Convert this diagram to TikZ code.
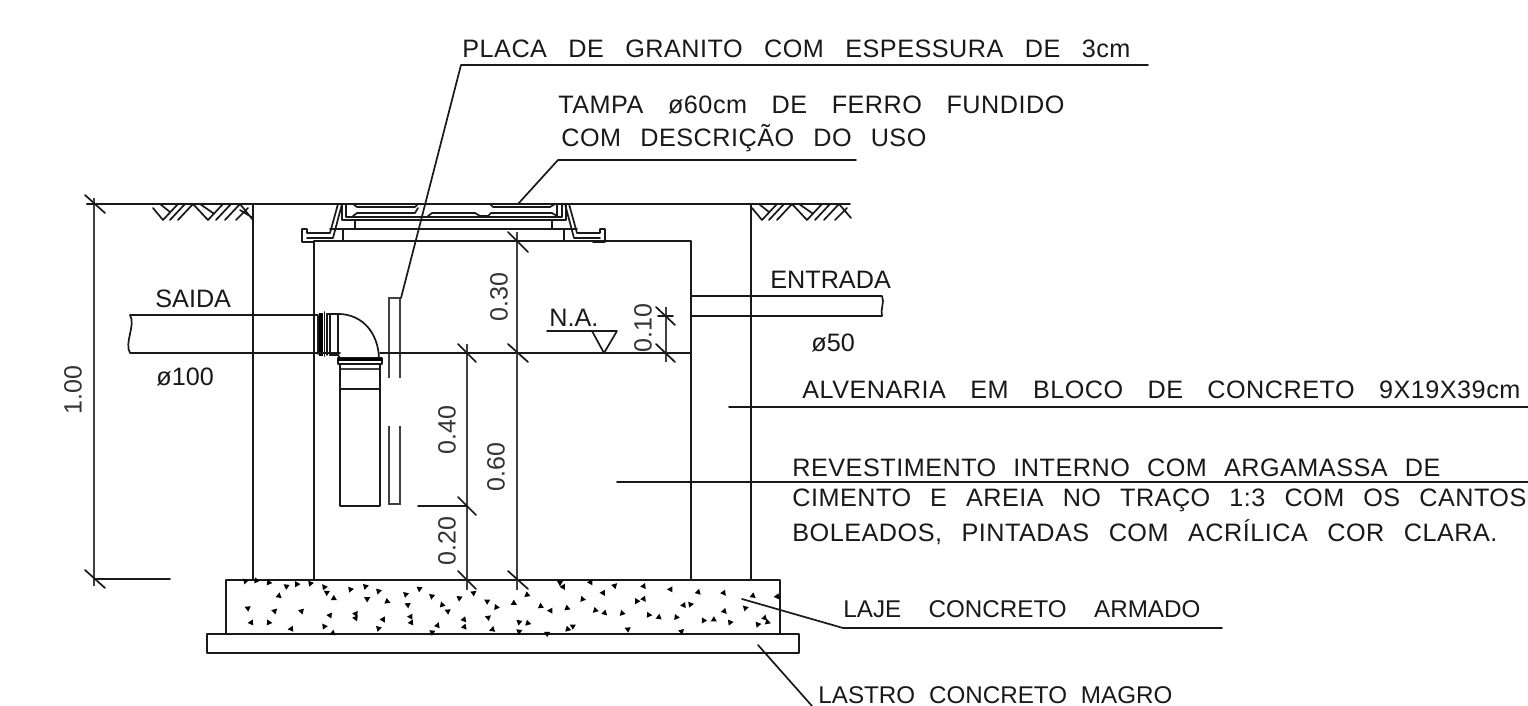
\documentclass[tikz,border=0pt]{standalone}
\usepackage{fontspec}
\setmainfont{Liberation Sans}
\newlength{\pxu}\setlength{\pxu}{.5pt}
\newcommand{\wtxt}[2]{{\addfontfeature{LetterSpace=2}\makebox[#1\pxu][s]{#2}}}
\newcommand{\ntxt}[2]{{\fontsize{12.1}{15}\selectfont\makebox[#1\pxu][s]{#2}}}
\tikzset{
  ln/.style={line width=.85pt,line join=round,line cap=round,black!90},
  thin ln/.style={line width=.6pt,black!75},
  lbl/.style={anchor=base west,inner sep=0pt,font=\fontsize{12.6}{15}\selectfont,black!90},
  dimt/.style={inner sep=0pt,font=\fontsize{12.5}{15}\selectfont,black!80,rotate=90}
}
\begin{document}
\begin{tikzpicture}[x=.5pt,y=-.5pt]
\fill[white] (0,0) rectangle (1528,706);
\useasboundingbox (0,0) rectangle (1528,706);

% ground and walls
\draw[ln] (87,204) -- (850,204);
\draw[ln] (253,204) -- (253,580) (751,204) -- (751,580);
\draw[ln] (314,580) -- (314,241) -- (691,241) -- (691,580);
\draw[ln] (226,580) rectangle (780,634);
\draw[ln] (207,634) rectangle (799,653);

% ground hatch left
\draw[ln] (153,208) -- (163,220) -- (178,204) (160,204) -- (170,212)
  (170,220) -- (185,204) (178,220) -- (193,204) -- (208,220) -- (223,204)
  (200,204) -- (213,213) (216,220) -- (231,204) (225,220) -- (240,204) -- (253,220)
  (236,220) -- (248,208) (240,210) -- (253,218);
% ground hatch right
\draw[ln] (752,208) -- (762,220) -- (777,204) (759,204) -- (769,212)
  (769,220) -- (784,204) (777,220) -- (792,204) -- (807,220) -- (822,204)
  (799,204) -- (812,213) (815,220) -- (830,204) (824,220) -- (839,204) -- (851,218)
  (835,220) -- (847,208);

% cover and frame, symmetric about x=453.5
\foreach \mir/\sh in {1/0,-1/907}{
\begin{scope}[shift={(\sh,0)},xscale=\mir]
  \draw[ln] (338,204) -- (330,233) -- (307,233) -- (307,229) -- (302,229) -- (302,242) -- (314,242);
  \draw[ln] (342,204) -- (333,238) -- (307,238);
  \draw[ln] (343,229) -- (343,241);
\end{scope}}
\draw[ln] (342,204) -- (342,220) -- (566,220) -- (566,204);
\draw[ln] (346,204) -- (346,217) -- (562,217) -- (562,204);
\draw[ln] (353,204) -- (357,207) -- (415,207) -- (418,204);
\draw[ln] (490,204) -- (493,207) -- (550,207) -- (555,204);
\draw[ln] (353,216) -- (357,213) -- (415,213) -- (418,208);
\draw[ln] (428,216) -- (432,213) -- (475,213) -- (480,216) -- (488,216) -- (491,213) -- (552,213) -- (557,216) -- (557,204);
\draw[ln] (355,220) -- (355,229) (552,220) -- (552,229);
\draw[ln] (330,229) -- (577,229);

% outlet pipe
\draw[ln] (318,315) -- (130,315) .. controls (136,325) and (124,343) .. (130,353) -- (318,353);
\draw[line width=2pt] (321,313) -- (321,356);
\draw[ln] (318,316) -- (318,354) (324.5,312) -- (324.5,356) (327,314) -- (327,355)
  (330,314) -- (330,355) (338,314) -- (338,355);
\draw[ln] (327,314) -- (340,314) .. controls (362,315) and (378,332) .. (379,358);
\draw[ln] (330,355) -- (338,355) -- (340,358);
\draw[ln] (340,353) -- (314,353);
% lower pipe
\draw[ln] (338,358) rectangle (382,364);
\fill (338,358) rectangle (382,361);
\draw[thin ln] (340,369) -- (380,369);
\draw[ln] (340,364) -- (340,506) -- (380,506) -- (380,364) (340,389) -- (380,389);

% plate
\draw[thin ln] (389,378) -- (389,298) -- (400,298) -- (400,378);
\draw[thin ln] (389,426) -- (389,504) -- (400,504) -- (400,426);

% water level
\draw[ln] (380,353) -- (691,353);
\draw[ln] (547,331) -- (617,331) -- (604,353) -- (592,331);

% inlet pipe
\draw[ln] (691,296) -- (882,296) .. controls (885,302) and (880,310) .. (882,316) -- (691,316);

% dimensions
\draw[thin ln] (94,198) -- (94,586);
\draw[ln] (87,204) -- (94,204) (94,579) -- (170,579);
\draw[ln] (85,195) -- (105,213) (85,570) -- (105,588);
\draw[thin ln] (517,232) -- (517,590);
\draw[ln] (508,232) -- (528,252) (508,344) -- (528,362) (508,571) -- (528,589);
\draw[thin ln] (467,344) -- (467,590);
\draw[ln] (458,344) -- (476,362) (458,497) -- (476,515) (458,571) -- (476,589);
\draw[ln] (418,506) -- (467,506);
\draw[thin ln] (666,307) -- (666,362);
\draw[ln] (656,307) -- (675,325) (656,344) -- (675,362) (658,316) -- (673,316);

\node[dimt] (d100) at (73,390) {1.00};
\node[dimt] (d30) at (499,297) {0.30};
\node[dimt] (d60) at (496,467) {0.60};
\node[dimt] (d40) at (447,430) {0.40};
\node[dimt] (d20) at (447,541) {0.20};
\node[dimt] (d10) at (643,328) {0.10};

% leaders
\draw[ln] (1148,65) -- (461,65) -- (401,298);
\draw[ln] (856,160) -- (558,160) -- (518,204);
\draw[ln] (729,407) -- (1528,407);
\draw[ln] (617,482) -- (1528,482);
\draw[ln] (1222,628) -- (843,628) -- (742,599);
\draw[ln] (758,645) -- (812,706);

% concrete aggregate
\begin{scope}[shift={(200,570)},scale=1/3]
\foreach \a/\b in {135/32,168/33,208/38,258/48,290/44,333/40,372/50,379/67,400/86,237/76,142/114,225/122,305/125,388/136,152/158,208/158,272/177,372/168,397/190,453/58,495/48,500/86,535/65,563/95,616/72,658/58,622/104,697/78,726/103,742/123,778/86,822/68,860/93,888/113,468/130,468/143,630/140,632/158,550/150,535/177,713/165,698/186,793/150,794/172,863/142,876/179}
  \fill[black,rotate around={\a*3:(\a,\b)}] (\a-9,\b+7) -- (\a+9,\b+7) -- (\a,\b-9) -- cycle;
\end{scope}
\begin{scope}[shift={(500,570)},scale=1/3]
\foreach \a/\b in {180/40,190/52,270/37,345/46,432/50,510/58,595/65,672/70,83/75,40/100,122/107,150/122,203/115,247/86,310/70,285/122,315/130,366/128,410/95,432/88,552/107,573/103,735/113,757/78,832/78,448/135,477/140,528/143,610/150,640/150,674/125,692/157,795/145,804/157,773/165,57/158,85/160,205/178,220/168,57/186,382/177,545/186,140/190}
  \fill[black,rotate around={\a*3:(\a,\b)}] (\a-9,\b+7) -- (\a+9,\b+7) -- (\a,\b-9) -- cycle;
\end{scope}

% labels
\node[lbl] (t1) at (462,58) {\wtxt{668}{PLACA DE GRANITO COM ESPESSURA DE 3cm}};
\node[lbl] (t2) at (558,114) {\wtxt{506}{TAMPA ø60cm DE FERRO FUNDIDO}};
\node[lbl] (t3) at (561,147) {\wtxt{365}{COM DESCRIÇÃO DO USO}};
\node[lbl] (t4) at (770,288) {ENTRADA};
\node[lbl] (t5) at (811,351) {ø50};
\node[lbl] (t6) at (155,307) {SAIDA};
\node[lbl] (t7) at (156,386) {ø100};
\node[lbl] (t8) at (549,326) {N.A.};
\node[lbl] (t9) at (802,398) {\wtxt{718}{ALVENARIA EM BLOCO DE CONCRETO 9X19X39cm}};
\node[lbl] (t10) at (792,476) {\wtxt{648}{REVESTIMENTO INTERNO COM ARGAMASSA DE}};
\node[lbl] (t11) at (792,506) {\wtxt{734}{CIMENTO E AREIA NO TRAÇO 1:3 COM OS CANTOS}};
\node[lbl] (t12) at (792,541) {\wtxt{705}{BOLEADOS, PINTADAS COM ACRÍLICA COR CLARA.}};
\node[lbl] (t13) at (843,617) {\ntxt{357}{LAJE CONCRETO ARMADO}};
\node[lbl] (t14) at (818,703) {\ntxt{354}{LASTRO CONCRETO MAGRO}};
\end{tikzpicture}
\end{document}
